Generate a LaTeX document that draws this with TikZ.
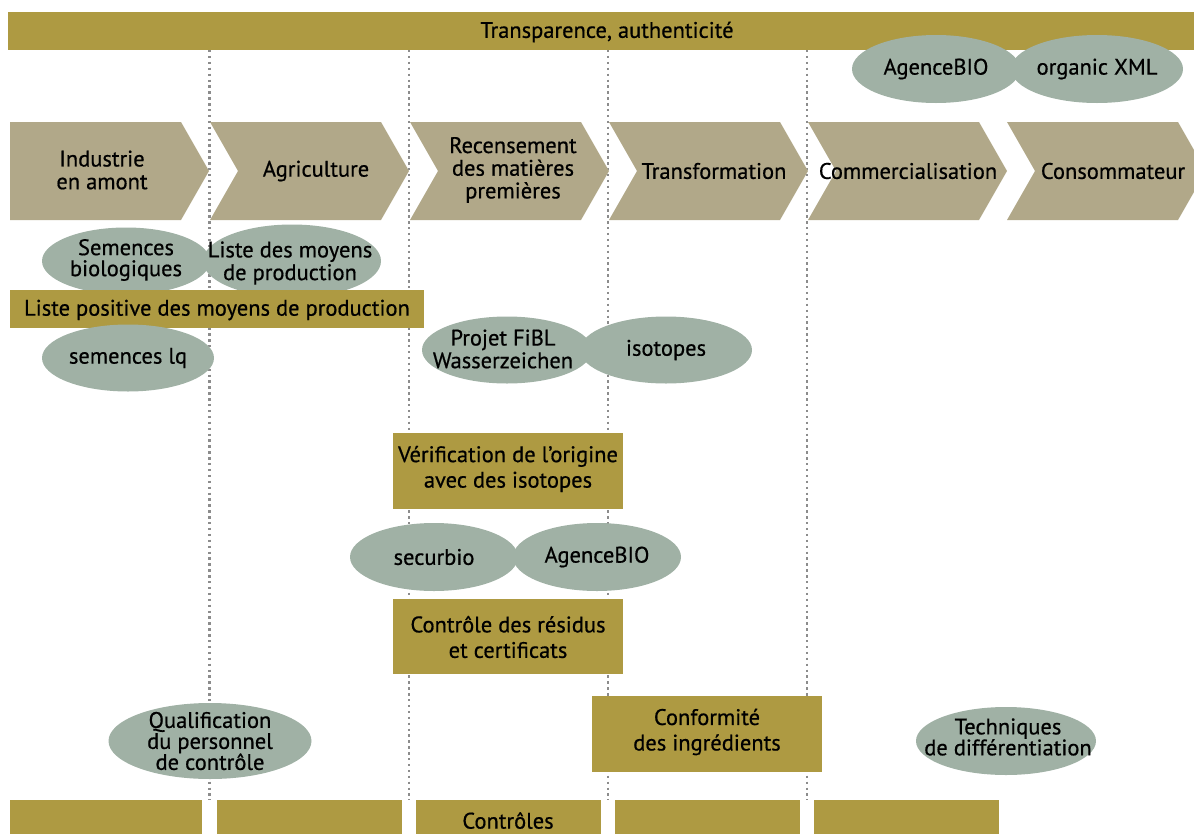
\documentclass[tikz,border=0pt]{standalone}
\usepackage{fontspec}
\setmainfont{PT Sans}[FakeBold=0.6]
\usetikzlibrary{shapes.geometric}
\definecolor{bandgold}{RGB}{174,154,66}
\definecolor{chevcol}{RGB}{177,168,137}
\definecolor{sagecol}{RGB}{160,177,165}
\definecolor{dotgray}{RGB}{140,140,140}
\begin{document}
\begin{tikzpicture}[x=1pt,y=-1pt,
  txt/.style={font=\fontsize{22.5}{22.7}\selectfont, align=center, text=black, inner sep=0pt},
  txtb/.style={txt, font=\fontsize{22.5}{25.5}\selectfont},
  txtt/.style={txt, font=\fontsize{22.5}{21}\selectfont},
  oval/.style={ellipse, fill=sagecol, draw=none, inner sep=0pt},
  chev/.style={fill=chevcol, draw=none},
  sep/.style={draw=dotgray, line width=2.4pt, dash pattern=on 2.4pt off 3.5pt},
  boxn/.style={rectangle, fill=bandgold, draw=none, inner sep=0pt}]
\useasboundingbox (0,0) rectangle (1194,833);
\clip (0,0) rectangle (1194,833);
% dotted separators
\foreach \xx/\nm in {209.3/s1,409/s2,608/s3,807/s4}{
  \coordinate (\nm a) at (\xx,50);
  \coordinate (\nm b) at (\xx,800);
  \draw[sep] (\nm a) -- (\nm b);
}
% top band
\node[boxn, minimum width=1186pt, minimum height=38pt, anchor=north west] (top) at (8,12) {};
\node[txt] (topT) at (607,32) {Transparence, authenticité};
% chevrons
\fill[chev] (10,122) -- (181,122) -- (209,171) -- (181,220) -- (10,220) -- cycle;
\foreach \L in {210,410,609,808,1007}{
  \fill[chev] (\L,122) -- ++(171,0) -- ++(28,49) -- ++(-28,49) -- ++(-171,0) -- ++(28,-49) -- cycle;
}
\node[txt] (c1) at (102,170) {Industrie\\en amont};
\node[txt] (c2) at (316,171) {Agriculture};
\node[txt] (c3) at (513,170) {Recensement\\des matières\\premières};
\node[txt] (c4) at (714,171) {Transformation};
\node[txt] (c5) at (908,171) {Commercialisation};
\node[txt] (c6) at (1113,171) {Consommateur};
% top ellipses
\node[oval, minimum width=168pt, minimum height=68pt] (ag1) at (936,69) {};
\node[oval, minimum width=172pt, minimum height=68pt] (xml) at (1097,69) {};
\node[txt] (ag1T) at (ag1) {AgenceBIO};
\node[txt] (xmlT) at (xml) {organic XML};
% row of seeds
\node[oval, minimum width=168pt, minimum height=67pt] (sem) at (126,261) {};
\node[oval, minimum width=178pt, minimum height=73pt] (lst) at (292,261) {};
\node[txtt] (semT) at (126,260) {Semences\\biologiques};
\node[txt] (lstT) at (290,263) {Liste des moyens\\de production};
\node[boxn, minimum width=414pt, minimum height=38pt] (pos) at (217,309) {};
\node[txt] (posT) at (217,310) {Liste positive des moyens de production};
\node[oval, minimum width=172pt, minimum height=67pt] (lq) at (128,358) {};
\node[txt] (lqT) at (lq) {semences lq};
% FiBL / isotopes
\node[oval, minimum width=170pt, minimum height=67pt] (fibl) at (507,350) {};
\node[oval, minimum width=172pt, minimum height=67pt] (iso) at (666,350) {};
\node[txt] (fiblT) at (503,349) {Projet FiBL\\Wasserzeichen};
\node[txt] (isoT) at (iso) {isotopes};
% verification
\node[boxn, minimum width=230pt, minimum height=76pt] (ver) at (508,471) {};
\node[txtb] (verT) at (508,469) {Vérification de l’origine\\avec des isotopes};
\node[oval, minimum width=168pt, minimum height=68pt] (sec) at (434,557) {};
\node[oval, minimum width=168pt, minimum height=68pt] (ag2) at (597,557) {};
\node[txt] (secT) at (sec) {securbio};
\node[txt] (ag2T) at (ag2) {AgenceBIO};
\node[boxn, minimum width=230pt, minimum height=75pt] (res) at (508,636) {};
\node[txtb] (resT) at (508,637) {Contrôle des résidus\\et certificats};
% lower row
\node[oval, minimum width=203pt, minimum height=76pt] (qual) at (210,741) {};
\node[txtt] (qualT) at (210,741) {Qualification\\du personnel\\de contrôle};
\node[boxn, minimum width=230pt, minimum height=76pt] (conf) at (707,734) {};
\node[txtb] (confT) at (707,732) {Conformité\\des ingrédients};
\node[oval, minimum width=180pt, minimum height=68pt] (tech) at (1006,741) {};
\node[txtt] (techT) at (1008,737) {Techniques\\de différentiation};
% bottom bars
\node[boxn, minimum width=192pt, minimum height=40pt, anchor=north west] (b1) at (10,800) {};
\node[boxn, minimum width=185pt, minimum height=40pt, anchor=north west] (b2) at (217,800) {};
\node[boxn, minimum width=185pt, minimum height=40pt, anchor=north west] (b3) at (416,800) {};
\node[boxn, minimum width=185pt, minimum height=40pt, anchor=north west] (b4) at (615,800) {};
\node[boxn, minimum width=185pt, minimum height=40pt, anchor=north west] (b5) at (814,800) {};
\node[txt] (ctrl) at (508,820.5) {Contrôles};
\end{tikzpicture}
\end{document}
